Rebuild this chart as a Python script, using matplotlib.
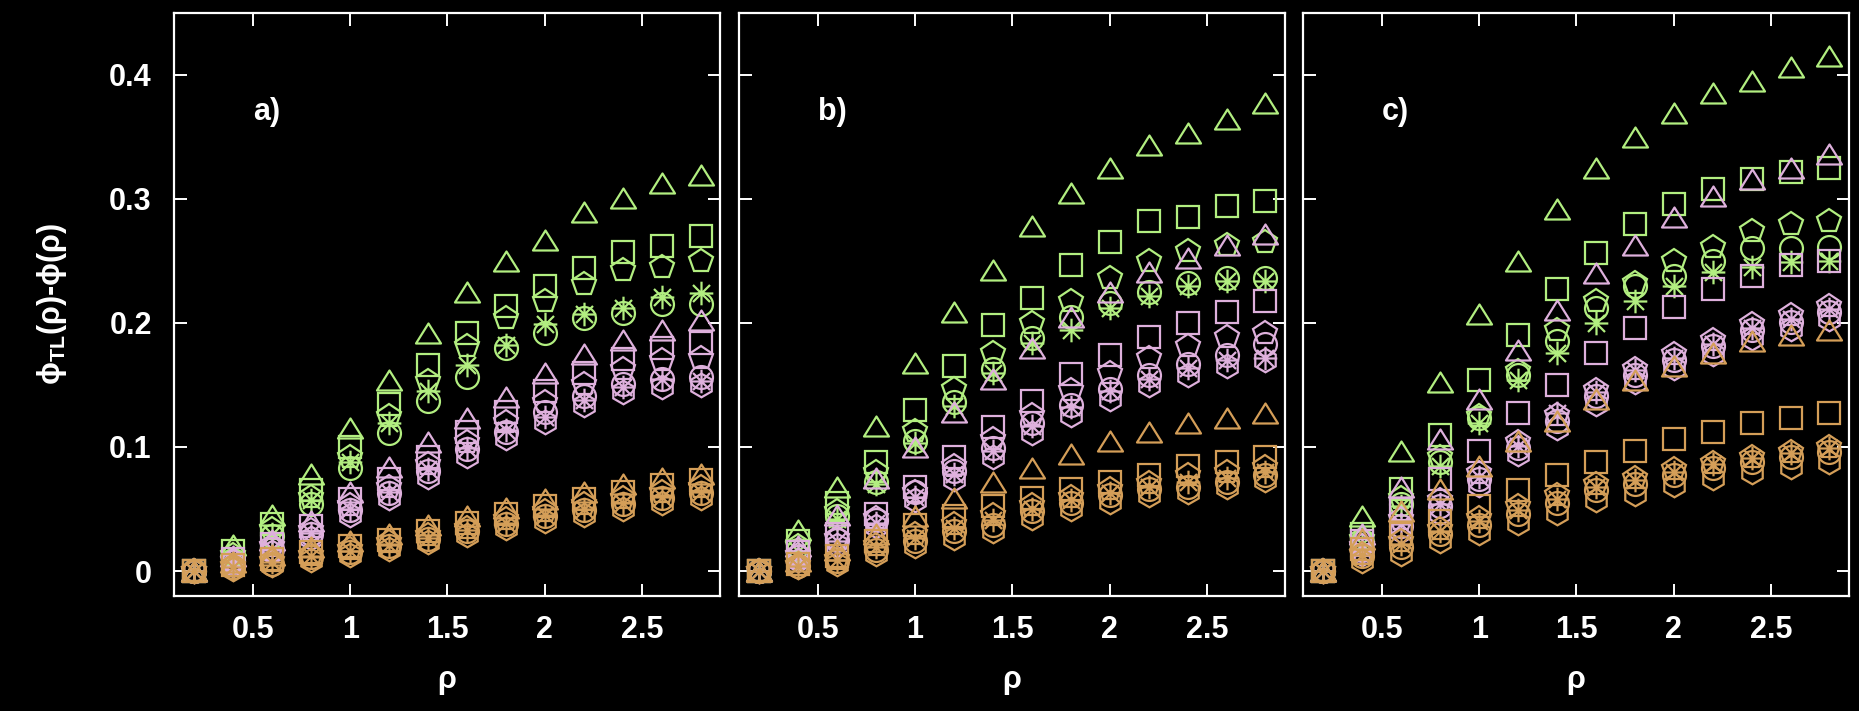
import matplotlib
matplotlib.use("Agg")
import matplotlib.pyplot as plt
from matplotlib.path import Path

rho = [0.2, 0.4, 0.6, 0.8, 1.0, 1.2, 1.4, 1.6, 1.8, 2.0, 2.2, 2.4, 2.6, 2.8]
panel_names = ["a)", "b)", "c)"]

# each group: triangle, square, pentagon, asterisk, circle, hexagon
a_green = [
    [0.0, 0.021, 0.045, 0.078, 0.115, 0.154, 0.192, 0.225, 0.250, 0.267, 0.289, 0.301, 0.313, 0.319],
    [0.0, 0.016, 0.038, 0.065, 0.100, 0.135, 0.166, 0.192, 0.214, 0.230, 0.244, 0.257, 0.262, 0.270],
    [0.0, 0.013, 0.034, 0.060, 0.092, 0.125, 0.153, 0.181, 0.204, 0.218, 0.231, 0.243, 0.245, 0.250],
    [0.0, 0.010, 0.030, 0.057, 0.088, 0.119, 0.145, 0.166, 0.182, 0.199, 0.207, 0.212, 0.221, 0.224],
    [0.0, 0.009, 0.028, 0.054, 0.083, 0.111, 0.137, 0.156, 0.180, 0.192, 0.204, 0.208, 0.215, 0.215],
    None,
]
a_pink = [
    [0.0, 0.012, 0.025, 0.040, 0.064, 0.084, 0.104, 0.123, 0.140, 0.160, 0.175, 0.186, 0.194, 0.202],
    [0.0, 0.010, 0.022, 0.036, 0.058, 0.074, 0.092, 0.112, 0.128, 0.145, 0.160, 0.171, 0.180, 0.184],
    [0.0, 0.008, 0.020, 0.033, 0.053, 0.068, 0.086, 0.104, 0.120, 0.136, 0.151, 0.163, 0.170, 0.172],
    [0.0, 0.007, 0.018, 0.031, 0.050, 0.064, 0.082, 0.099, 0.114, 0.124, 0.138, 0.148, 0.155, 0.153],
    [0.0, 0.007, 0.018, 0.030, 0.049, 0.063, 0.081, 0.098, 0.112, 0.128, 0.141, 0.151, 0.155, 0.156],
    [0.0, 0.005, 0.015, 0.027, 0.045, 0.059, 0.076, 0.093, 0.107, 0.120, 0.134, 0.144, 0.148, 0.150],
]
a_brown = [
    [0.0, 0.007, 0.013, 0.019, 0.024, 0.030, 0.037, 0.044, 0.051, 0.058, 0.064, 0.070, 0.075, 0.078],
    [0.0, 0.005, 0.010, 0.015, 0.020, 0.025, 0.032, 0.039, 0.046, 0.052, 0.058, 0.064, 0.069, 0.073],
    [0.0, 0.004, 0.008, 0.013, 0.018, 0.023, 0.029, 0.035, 0.042, 0.048, 0.054, 0.059, 0.064, 0.068],
    [0.0, 0.003, 0.007, 0.012, 0.016, 0.021, 0.027, 0.033, 0.039, 0.045, 0.050, 0.055, 0.060, 0.064],
    [0.0, 0.003, 0.006, 0.011, 0.015, 0.020, 0.026, 0.032, 0.038, 0.044, 0.049, 0.054, 0.059, 0.063],
    [0.0, 0.002, 0.005, 0.009, 0.013, 0.018, 0.023, 0.029, 0.035, 0.040, 0.045, 0.050, 0.055, 0.059],
]

b_green = [
    [0.0, 0.033, 0.068, 0.117, 0.168, 0.209, 0.243, 0.278, 0.305, 0.325, 0.343, 0.353, 0.364, 0.377],
    [0.0, 0.024, 0.055, 0.088, 0.130, 0.165, 0.198, 0.220, 0.247, 0.265, 0.282, 0.285, 0.294, 0.298],
    [0.0, 0.020, 0.048, 0.080, 0.113, 0.147, 0.176, 0.200, 0.218, 0.236, 0.250, 0.258, 0.263, 0.265],
    [0.0, 0.016, 0.042, 0.070, 0.103, 0.133, 0.160, 0.184, 0.194, 0.212, 0.222, 0.230, 0.234, 0.234],
    [0.0, 0.017, 0.044, 0.072, 0.105, 0.136, 0.163, 0.188, 0.205, 0.216, 0.225, 0.232, 0.236, 0.236],
    None,
]
b_pink = [
    [0.0, 0.020, 0.045, 0.075, 0.100, 0.128, 0.155, 0.180, 0.205, 0.225, 0.241, 0.252, 0.263, 0.272],
    [0.0, 0.015, 0.030, 0.046, 0.068, 0.092, 0.116, 0.137, 0.159, 0.174, 0.189, 0.200, 0.209, 0.218],
    [0.0, 0.013, 0.027, 0.043, 0.064, 0.085, 0.106, 0.126, 0.146, 0.160, 0.172, 0.181, 0.189, 0.192],
    [0.0, 0.011, 0.024, 0.039, 0.060, 0.078, 0.097, 0.117, 0.132, 0.145, 0.155, 0.164, 0.170, 0.172],
    [0.0, 0.011, 0.025, 0.041, 0.064, 0.081, 0.099, 0.119, 0.134, 0.147, 0.158, 0.167, 0.174, 0.183],
    [0.0, 0.009, 0.021, 0.036, 0.057, 0.074, 0.092, 0.111, 0.126, 0.139, 0.150, 0.158, 0.165, 0.170],
]
b_brown = [
    [0.0, 0.008, 0.017, 0.030, 0.044, 0.059, 0.072, 0.083, 0.094, 0.105, 0.112, 0.119, 0.123, 0.127],
    [0.0, 0.006, 0.012, 0.024, 0.037, 0.044, 0.052, 0.059, 0.066, 0.072, 0.077, 0.085, 0.088, 0.092],
    [0.0, 0.005, 0.010, 0.021, 0.030, 0.038, 0.045, 0.053, 0.060, 0.066, 0.071, 0.077, 0.080, 0.084],
    [0.0, 0.004, 0.009, 0.019, 0.027, 0.035, 0.041, 0.050, 0.057, 0.063, 0.068, 0.072, 0.075, 0.080],
    [0.0, 0.004, 0.008, 0.017, 0.024, 0.032, 0.037, 0.048, 0.055, 0.061, 0.066, 0.068, 0.072, 0.077],
    [0.0, 0.003, 0.006, 0.014, 0.020, 0.027, 0.032, 0.043, 0.050, 0.056, 0.061, 0.064, 0.068, 0.073],
]

c_green = [
    [0.0, 0.044, 0.097, 0.152, 0.207, 0.250, 0.292, 0.325, 0.350, 0.369, 0.385, 0.395, 0.406, 0.415],
    [0.0, 0.030, 0.066, 0.110, 0.154, 0.190, 0.227, 0.256, 0.280, 0.296, 0.308, 0.316, 0.322, 0.325],
    [0.0, 0.026, 0.059, 0.092, 0.125, 0.161, 0.194, 0.218, 0.232, 0.250, 0.261, 0.274, 0.280, 0.282],
    [0.0, 0.022, 0.052, 0.085, 0.119, 0.154, 0.176, 0.200, 0.218, 0.230, 0.241, 0.245, 0.249, 0.250],
    [0.0, 0.023, 0.054, 0.088, 0.123, 0.158, 0.185, 0.212, 0.230, 0.238, 0.250, 0.260, 0.260, 0.261],
    None,
]
c_pink = [
    [0.0, 0.030, 0.068, 0.106, 0.139, 0.178, 0.210, 0.240, 0.263, 0.285, 0.302, 0.316, 0.325, 0.336],
    [0.0, 0.024, 0.050, 0.074, 0.097, 0.127, 0.150, 0.176, 0.196, 0.213, 0.227, 0.238, 0.247, 0.250],
    [0.0, 0.020, 0.042, 0.057, 0.079, 0.104, 0.126, 0.146, 0.163, 0.175, 0.186, 0.199, 0.206, 0.214],
    [0.0, 0.018, 0.038, 0.054, 0.076, 0.101, 0.127, 0.144, 0.162, 0.172, 0.183, 0.196, 0.203, 0.211],
    [0.0, 0.017, 0.036, 0.052, 0.074, 0.099, 0.121, 0.141, 0.158, 0.170, 0.181, 0.194, 0.201, 0.209],
    [0.0, 0.014, 0.032, 0.047, 0.069, 0.094, 0.115, 0.135, 0.152, 0.164, 0.175, 0.188, 0.195, 0.203],
]
c_brown = [
    [0.0, 0.026, 0.048, 0.066, 0.085, 0.105, 0.121, 0.139, 0.154, 0.165, 0.176, 0.185, 0.190, 0.194],
    [0.0, 0.018, 0.030, 0.040, 0.052, 0.065, 0.077, 0.088, 0.097, 0.106, 0.112, 0.119, 0.123, 0.127],
    [0.0, 0.014, 0.024, 0.034, 0.043, 0.052, 0.061, 0.070, 0.075, 0.082, 0.087, 0.092, 0.096, 0.100],
    [0.0, 0.013, 0.022, 0.032, 0.040, 0.049, 0.058, 0.068, 0.073, 0.080, 0.086, 0.091, 0.095, 0.099],
    [0.0, 0.012, 0.019, 0.030, 0.037, 0.046, 0.055, 0.065, 0.070, 0.077, 0.083, 0.088, 0.092, 0.096],
    [0.0, 0.008, 0.014, 0.024, 0.031, 0.039, 0.047, 0.057, 0.062, 0.069, 0.075, 0.080, 0.084, 0.088],
]

panels = [
    [a_green, a_pink, a_brown],
    [b_green, b_pink, b_brown],
    [c_green, c_pink, c_brown],
]
colors = ["#b2ee80", "#deb0dc", "#d49e58"]

# gnuplot-like point shapes
tri = Path([(0, 0.8), (-1, -0.8), (1, -0.8), (0, 0.8)], closed=True)
M, L = Path.MOVETO, Path.LINETO
asterisk = Path([(-1, 0), (1, 0), (0, -1), (0, 1),
                 (-0.72, -0.72), (0.72, 0.72), (-0.72, 0.72), (0.72, -0.72)],
                [M, L, M, L, M, L, M, L])
markers = [(tri, 18), ("s", 16), ("p", 17.5), (asterisk, 17), ("o", 16.5), ("h", 17)]

plt.rcParams["font.family"] = ["Liberation Sans", "DejaVu Sans"]
plt.rcParams["font.weight"] = "bold"
plt.rcParams["mathtext.default"] = "regular"

fig = plt.figure(figsize=(18.59, 7.11), dpi=100, facecolor="black")
lefts = [0.0936, 0.3975, 0.7009]

for k, groups in enumerate(panels):
    ax = fig.add_axes([lefts[k], 0.1620, 0.2937, 0.8201], facecolor="black")
    for color, series in zip(colors, groups):
        for (mk, ms), vals in zip(markers, series):
            if vals is None:
                continue
            ax.plot(rho, vals, linestyle="none", marker=mk, markersize=ms,
                    markerfacecolor="none", markeredgecolor=color,
                    markeredgewidth=1.6, color=color)

    ax.set_xlim(0.095, 2.9)
    ax.set_ylim(-0.02, 0.45)
    ax.set_xticks([0.5, 1, 1.5, 2, 2.5])
    ax.set_xticklabels(["0.5", "1", "1.5", "2", "2.5"])
    ax.set_yticks([0, 0.1, 0.2, 0.3, 0.4])
    ax.set_yticklabels(["0", "0.1", "0.2", "0.3", "0.4"])
    if k > 0:
        ax.tick_params(axis="y", labelleft=False)
    for s in ax.spines.values():
        s.set_color("white")
        s.set_linewidth(1.6)
    ax.tick_params(direction="in", length=9, width=1.4, colors="white",
                   top=True, right=True, labelsize=22)
    ax.tick_params(axis="x", pad=14)
    ax.tick_params(axis="y", pad=16)
    ax.set_xlabel("ρ", color="white", fontsize=22, fontweight="bold", labelpad=14)
    if k == 0:
        ax.set_ylabel("ϕ$_{TL}$(ρ)-ϕ(ρ)", color="white", fontsize=22,
                      fontweight="bold", labelpad=29)
    ax.text(0.5, 0.37, panel_names[k], color="white", fontsize=22,
            fontweight="bold", ha="left", va="center")

fig.savefig("out.png", dpi=100, facecolor="black")
